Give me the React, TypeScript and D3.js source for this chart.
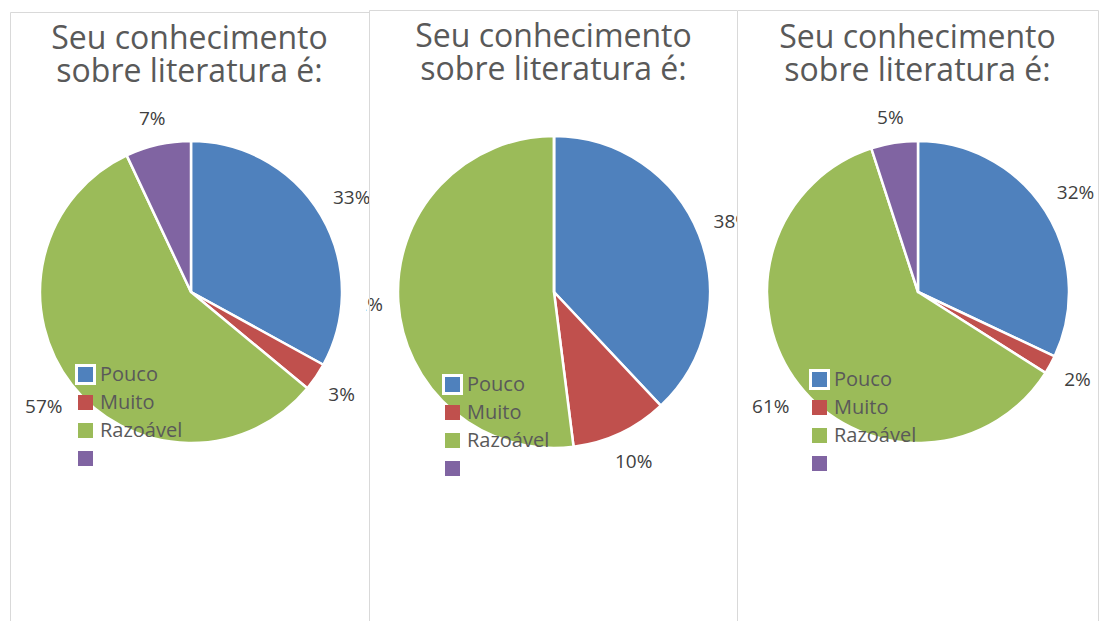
import { arc, pie } from 'd3'

const categories = ['Pouco', 'Muito', 'Razoável', '']
const sliceColors = ['#4f81bd', '#c0504d', '#9bbb59', '#8064a2']
const valuesA = [33, 3, 57, 7]
const valuesB = [38, 10, 52, 0]
const valuesC = [32, 2, 61, 5]
const titleLines = ['Seu conhecimento', 'sobre literatura é:']

const width = 1101
const height = 621
const font = '"Open Sans", "Liberation Sans", sans-serif'
const labelSize = 19

const panels = [
  { values: valuesA, x0: 10, x1: 369, clipX: 10, top: 12, cx: 191, cy: 292, r: 151, legendX: 78, legendY: 374, titleY: 49 },
  { values: valuesB, x0: 369, x1: 738, clipX: 366, top: 10, cx: 554, cy: 292, r: 156, legendX: 445, legendY: 384, titleY: 47 },
  { values: valuesC, x0: 737, x1: 1098, clipX: 737, top: 10, cx: 918, cy: 292, r: 151, legendX: 812, legendY: 379, titleY: 48 },
]

const pieGen = pie<number>().sort(null).value((d) => d)

// push the label out of the pie by its own half size, like Excel's "outside end"
function labelPos(d, r, text) {
  const mid = (d.startAngle + d.endAngle) / 2
  const halfW = (text.length - 1) * 0.57 * labelSize / 2 + 0.83 * labelSize / 2
  const rr = r + 15 + halfW * Math.abs(Math.sin(mid)) + 9 * Math.abs(Math.cos(mid))
  return arc().innerRadius(rr).outerRadius(rr).centroid(d as any)
}

function Panel({ p, i }) {
  const arcs = pieGen(p.values)
  const sliceArc = arc().innerRadius(0).outerRadius(p.r)
  return (
    <g>
      <defs>
        <clipPath id={`clip${i}`}>
          <rect x={p.clipX} y={p.top} width={p.x1 - p.clipX} height={height - p.top} />
        </clipPath>
      </defs>
      <rect x={p.x0} y={p.top} width={p.x1 - p.x0} height={height} fill="#fff" />
      <g clipPath={`url(#clip${i})`}>
        <text
          x={(p.x0 + p.x1) / 2}
          y={p.titleY}
          textAnchor="middle"
          fontFamily={font}
          fontSize={32}
          fill="#595959"
        >
          {titleLines.map((t, k) => (
            <tspan key={k} x={(p.x0 + p.x1) / 2} dy={k === 0 ? 0 : 33}>
              {t}
            </tspan>
          ))}
        </text>
        <g transform={`translate(${p.cx},${p.cy})`}>
          {arcs.map((d, k) => (
            <path key={k} d={sliceArc(d as any)} fill={sliceColors[k]} stroke="#fff" strokeWidth={2.5} strokeLinejoin="round" />
          ))}
          {arcs
            .filter((d) => d.data > 0)
            .map((d, k) => {
              const text = `${d.data}%`
              const [lx, ly] = labelPos(d, p.r, text)
              return (
                <text
                  key={k}
                  x={lx}
                  y={ly}
                  dy="0.35em"
                  textAnchor="middle"
                  fontFamily={font}
                  fontSize={labelSize}
                  fill="#404040"
                >
                  {text}
                </text>
              )
            })}
        </g>
        <g transform={`translate(${p.legendX},${p.legendY})`}>
          {categories.map((c, k) => (
            <g key={k} transform={`translate(0,${k * 28})`}>
              {k === 0 && <rect x={-3} y={-10} width={21} height={21} fill="#fff" />}
              <rect x={0} y={-7} width={15} height={15} fill={sliceColors[k]} />
              <text x={22} y={7} fontFamily={font} fontSize={20} fill="#595959">
                {c}
              </text>
            </g>
          ))}
        </g>
      </g>
      <path
        d={`M${p.x0 + 0.5},${height} V${p.top + 0.5} H${p.x1 + 0.5} V${height}`}
        fill="none"
        stroke="#d9d9d9"
        strokeWidth={1}
      />
    </g>
  )
}

export default function App() {
  return (
    <svg
      width={width}
      height={height}
      style={{ position: 'absolute', left: 0, top: 0, background: '#fff' }}
    >
      {panels.map((p, i) => (
        <Panel key={i} p={p} i={i} />
      ))}
    </svg>
  )
}
